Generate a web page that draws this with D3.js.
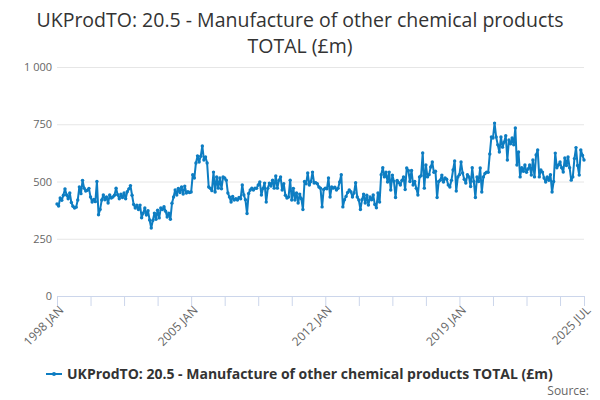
<!DOCTYPE html>
<html>
<head lang="en">
    <meta charset="UTF-8">
    <title> UKProdTO 20.5 </title>
    <script type="text/javascript" src="https://cdn.jsdelivr.net/npm/d3@7/dist/d3.min.js"></script>
    <style>
        body { margin: 0; background: #fff; }
        text { font-family: "Open Sans", "DejaVu Sans", sans-serif; }
    </style>
</head>
<body>
<div id="chart"></div>

<script>

    // monthly values, one row per year (1998 JAN .. 2025 JUL)
    var y1998 = [402, 393, 428, 418, 440, 468, 441, 425, 450, 408, 392, 384];
    var y1999 = [388, 419, 476, 447, 505, 471, 458, 462, 470, 432, 410, 422];
    var y2000 = [412, 500, 355, 378, 419, 441, 420, 432, 406, 441, 428, 432];
    var y2001 = [440, 471, 442, 425, 445, 430, 450, 425, 455, 468, 482, 440];
    var y2002 = [400, 384, 397, 378, 397, 342, 362, 384, 354, 372, 332, 297];
    var y2003 = [330, 362, 335, 375, 341, 384, 378, 390, 370, 345, 362, 335];
    var y2004 = [405, 432, 463, 441, 470, 452, 476, 445, 480, 450, 455, 452];
    var y2005 = [454, 530, 515, 581, 612, 585, 610, 655, 594, 607, 581, 476];
    var y2006 = [470, 460, 541, 454, 520, 471, 515, 468, 520, 515, 506, 450];
    var y2007 = [432, 410, 435, 419, 425, 419, 430, 425, 485, 441, 420, 360];
    var y2008 = [448, 463, 471, 463, 471, 470, 485, 498, 441, 470, 493, 410];
    var y2009 = [470, 493, 480, 506, 471, 524, 471, 506, 520, 463, 490, 440];
    var y2010 = [428, 432, 506, 419, 470, 419, 450, 406, 445, 425, 378, 500];
    var y2011 = [490, 537, 485, 500, 541, 493, 495, 490, 476, 471, 389, 465];
    var y2012 = [471, 468, 515, 432, 476, 471, 475, 463, 470, 498, 530, 389];
    var y2013 = [420, 435, 452, 463, 455, 432, 450, 495, 432, 419, 378, 420];
    var y2014 = [445, 406, 440, 397, 432, 420, 441, 400, 385, 450, 410, 530];
    var y2015 = [560, 520, 541, 498, 541, 463, 528, 500, 430, 505, 495, 485];
    var y2016 = [505, 520, 465, 559, 548, 500, 548, 485, 500, 470, 441, 520];
    var y2017 = [525, 625, 471, 572, 520, 530, 563, 585, 540, 545, 430, 500];
    var y2018 = [506, 528, 498, 515, 510, 485, 476, 505, 550, 590, 458, 520];
    var y2019 = [530, 585, 537, 510, 493, 530, 520, 478, 560, 500, 430, 520];
    var y2020 = [500, 559, 454, 520, 535, 541, 540, 620, 694, 690, 755, 694];
    var y2021 = [660, 629, 694, 650, 672, 700, 594, 681, 665, 690, 660, 734];
    var y2022 = [572, 629, 520, 560, 545, 572, 540, 555, 572, 528, 594, 520];
    var y2023 = [616, 638, 520, 550, 541, 515, 498, 520, 505, 530, 454, 500];
    var y2024 = [624, 560, 572, 585, 560, 541, 603, 570, 607, 560, 506, 520];
    var y2025 = [600, 648, 570, 528, 638, 615, 594];

    var values = [].concat(y1998, y1999, y2000, y2001, y2002, y2003, y2004,
        y2005, y2006, y2007, y2008, y2009, y2010, y2011, y2012, y2013, y2014,
        y2015, y2016, y2017, y2018, y2019, y2020, y2021, y2022, y2023, y2024, y2025);

    var yTicks      = [0, 250, 500, 750, 1000];
    var xLabelIdx   = [0, 84, 168, 252, 330];
    var xLabels     = ["1998 JAN", "2005 JAN", "2012 JAN", "2019 JAN", "2025 JUL"];
    var seriesName  = "UKProdTO: 20.5 - Manufacture of other chemical products TOTAL (£m)";
    var titleLines  = ["UKProdTO: 20.5 - Manufacture of other chemical products", "TOTAL (£m)"];

    var W = 600, H = 400;
    var plotL = 57, plotR = 584, plotT = 67, plotB = 296;   // "top" is taken by window.top
    var blue = "#0d7dc2";

    var svg = d3.select("#chart").append("svg")
            .attr("width", W)
            .attr("height", H);

    var x = d3.scaleLinear().domain([0, values.length - 1]).range([plotL, plotR]);
    var y = d3.scaleLinear().domain([0, 1000]).range([plotB, plotT]);

    // title
    svg.append("g").selectAll("text")
            .data(titleLines).enter().append("text")
            .attr("x", W / 2)
            .attr("y", function (d, i) { return 27 + i * 26; })
            .attr("text-anchor", "middle")
            .style("font-size", "19.5px")
            .style("fill", "#333")
            .text(function (d) { return d; });

    // grid + y labels
    var yAxis = d3.axisLeft(y).tickValues(yTicks)
            .tickSize(-(plotR - plotL))
            .tickFormat(function (d) { return d3.format(",")(d).replace(",", " "); });
    var gy = svg.append("g").attr("transform", "translate(" + plotL + ",0)").call(yAxis);
    gy.select(".domain").remove();
    gy.selectAll("line").style("stroke", "#e6e6e6");
    gy.selectAll("text").attr("x", -5).attr("dy", "0.32em")
            .style("font-size", "11px").style("fill", "#666");

    // x axis
    var tickIdx = d3.range(0, values.length, 21).concat([values.length - 1]);
    var xAxis = d3.axisBottom(x).tickValues(tickIdx).tickSize(10)
            .tickFormat(function (d) {
                var k = xLabelIdx.indexOf(d);
                return k < 0 ? "" : xLabels[k];
            });
    var gx = svg.append("g").attr("transform", "translate(0," + plotB + ")").call(xAxis);
    gx.select(".domain").style("stroke", "#ccd6eb");
    gx.selectAll("line").style("stroke", "#ccd6eb");
    gx.selectAll("text")
            .style("font-size", "12px").style("fill", "#666")
            .attr("text-anchor", "end")
            .attr("transform", "translate(4,12) rotate(-45)")
            .attr("y", 0).attr("dy", "0.35em");

    // series
    var line = d3.line()
            .x(function (d, i) { return x(i); })
            .y(function (d) { return y(d); });

    svg.append("path")
            .datum(values)
            .attr("d", line)
            .style("fill", "none")
            .style("stroke", blue)
            .style("stroke-width", 2)
            .style("stroke-linejoin", "round");

    svg.append("g").selectAll("circle")
            .data(values).enter().append("circle")
            .attr("cx", function (d, i) { return x(i); })
            .attr("cy", function (d) { return y(d); })
            .attr("r", 1.7)
            .style("fill", blue);

    // legend
    var lg = svg.append("g").attr("transform", "translate(46,374)");
    lg.append("line").attr("x1", 0).attr("x2", 16).attr("y1", 0).attr("y2", 0)
            .style("stroke", blue).style("stroke-width", 2);
    lg.append("circle").attr("cx", 8).attr("cy", 0).attr("r", 2).style("fill", blue);
    lg.append("text").attr("x", 21).attr("y", 0).attr("dy", "0.35em")
            .style("font-size", "14px").style("font-weight", "bold").style("fill", "#333")
            .text(seriesName);

    // credits
    svg.append("text").attr("x", 589).attr("y", 395)
            .attr("text-anchor", "end")
            .style("font-size", "12px").style("fill", "#666")
            .text("Source:");

</script>
</body>
</html>
